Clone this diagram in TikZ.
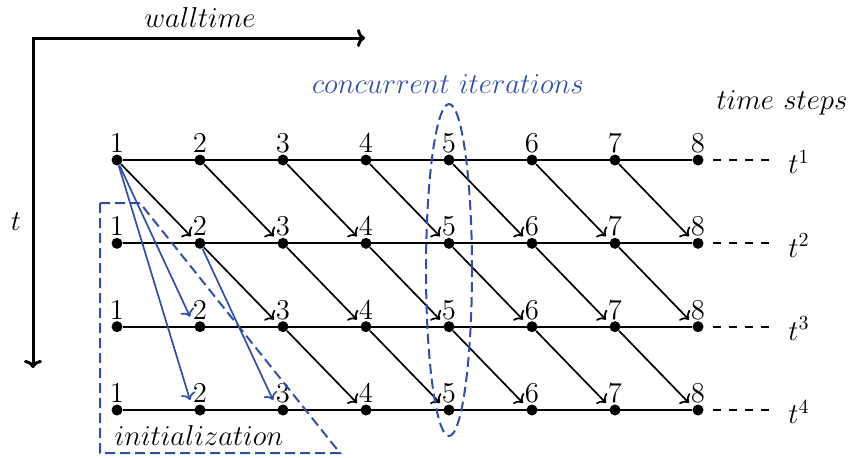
\documentclass[tikz,border=0pt]{standalone}
\usetikzlibrary{arrows.meta,calc,shapes.geometric}
\definecolor{myblue}{RGB}{50,78,165}
\begin{document}
\begin{tikzpicture}[x=0.5pt,y=-0.5pt,
  every node/.style={font=\Large, inner sep=0pt},
  dot/.style={circle,fill=black,minimum size=5.5pt,inner sep=0pt},
  num/.style={anchor=south},
  rowline/.style={line width=0.95pt},
  tail/.style={line width=0.95pt,dash pattern=on 4pt off 4pt},
  arr/.style={line width=0.85pt,-{To[length=3.5pt,width=7.5pt]}},
  barr/.style={arr,myblue},
  axis/.style={line width=1.5pt,{To[length=4pt,width=9pt]}-{To[length=4pt,width=9pt]}},
  bdash/.style={myblue,line width=1pt,dash pattern=on 5pt off 2.5pt}
  ]
\useasboundingbox (0,0) rectangle (851,457);
% axes
\coordinate (ax) at (33,368);
\coordinate (corner) at (33,38);
\coordinate (ay) at (365,38);
\draw[axis] (ax) -- (corner) -- (ay);
\node (wall) at (200,17) {$walltime$};
\node (tax) at (16,222) {$t$};
% rows
\foreach \r in {1,...,4}{
  \foreach \c in {1,...,8}{
    \path ({117+83*(\c-1)},{160+83.33*(\r-1)}) node[dot] (d\r\c) {};
  }
  \draw[rowline] (d\r1) -- (d\r8);
  \coordinate (s\r) at (713,{160+83.33*(\r-1)});
  \coordinate (e\r) at (772,{160+83.33*(\r-1)});
  \draw[tail] (s\r) -- (e\r);
  \node[anchor=west] (t\r) at (788,{162+83.33*(\r-1)}) {$t^{\r}$};
  \foreach \c in {1,...,8}{
    \node[num] (n\r\c) at ($(d\r\c.center)+(0,-7)$) {$\c$};
  }
}
% black diagonal arrows
\foreach \r/\rr in {1/2,2/3,3/4}{
  \foreach \c in {\r,...,7}{
    \pgfmathtruncatemacro{\cc}{\c+1}
    \draw[arr] (d\r\c) -- ($(d\rr\cc)+(-9,-7)$);
  }
}
% blue arrows
\draw[barr] (d11) -- ($(d32)+(-10,-10)$);
\draw[barr] (d11) -- ($(d42)+(-10,-10)$);
\draw[barr] (d22) -- ($(d43)+(-10,-10)$);
% initialization region
\draw[bdash] (100,203) -- (140,203) -- (340,453) -- (100,453) -- cycle;
\node (init) at (199,435) {$initialization$};
% concurrent iterations
\node[ellipse,draw,bdash,minimum width=23pt,minimum height=166pt] (conc) at (449,270) {};
\node[text=myblue] (conct) at (448,84) {$concurrent\ iterations$};
\node (ts) at (782,103) {$time\ steps$};
\end{tikzpicture}
\end{document}
